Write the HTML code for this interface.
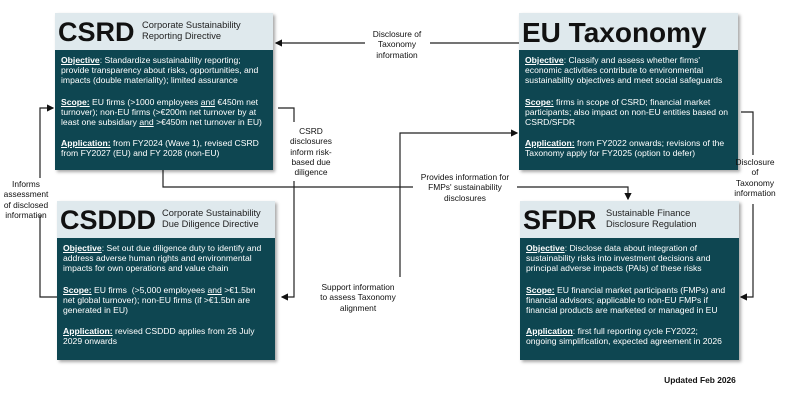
<!DOCTYPE html>
<html><head><meta charset="utf-8"><style>
body{margin:0;width:800px;height:406px;background:#fff;position:relative;overflow:hidden;font-family:"Liberation Sans",Arial,sans-serif;}
.box{position:absolute;box-shadow:2px 2px 3px rgba(0,0,0,0.35);}
.hd{background:#dfe9ed;position:relative;}
.bd{background:#0e4651;color:#fff;font-size:8.6px;line-height:10.2px;padding:5px 6px 0 6px;box-sizing:border-box;white-space:nowrap;}
.bd p{margin:0 0 11px 0;}
.bd b{text-decoration:underline;}
.t{position:absolute;font-weight:bold;color:#111;font-size:27px;line-height:27px;white-space:nowrap;}
.s{position:absolute;font-size:9.3px;line-height:11px;color:#222;white-space:nowrap;}
.lb{position:absolute;font-size:8.4px;line-height:10.3px;color:#111;text-align:center;white-space:nowrap;}
svg{position:absolute;left:0;top:0;}
</style></head><body>
<svg width="800" height="406">
<defs><marker id="a" markerWidth="6" markerHeight="6" refX="5" refY="3" orient="auto"><path d="M0,0 L6,3 L0,6 z" fill="#111"/></marker></defs>
<g stroke="#222" stroke-width="1.2" fill="none">
<line x1="519" y1="43" x2="430" y2="43"/>
<line x1="365" y1="43" x2="276" y2="43" marker-end="url(#a)"/>
<polyline points="278,108 294,108 294,122"/>
<polyline points="294,181 294,297 282,297" marker-end="url(#a)"/>
<polyline points="400,277 400,133 517,133" marker-end="url(#a)"/>
<polyline points="163,170 163,187 413,187"/>
<polyline points="517,187 628,187 628,199" marker-end="url(#a)"/>
<polyline points="57,297 40,297 40,215"/>
<polyline points="40,178 40,108 53,108" marker-end="url(#a)"/>
<polyline points="741,112 753,112 753,155"/>
<polyline points="753,204 753,297 741,297" marker-end="url(#a)"/>
</g></svg>

<div class="box" style="left:55px;top:13px;width:218px;height:157px;">
<div class="hd" style="height:37px;"><div class="t" style="left:3px;top:6px;">CSRD</div><div class="s" style="left:87px;top:7px;">Corporate Sustainability<br>Reporting Directive</div></div>
<div class="bd" style="height:120px;"><p><b>Objective</b>: Standardize sustainability reporting;<br>provide transparency about risks, opportunities, and<br>impacts (double materiality); limited assurance</p><p><b>Scope:</b> EU firms (&gt;1000 employees <u>and</u> €450m net<br>turnover); non-EU firms (&gt;€200m net turnover by at<br>least one subsidiary <u>and</u> &gt;€450m net turnover in EU)</p><p><b>Application:</b> from FY2024 (Wave 1), revised CSRD<br>from FY2027 (EU) and FY 2028 (non-EU)</p></div>
</div>

<div class="box" style="left:519px;top:13px;width:219px;height:157px;">
<div class="hd" style="height:37px;"><div class="t" style="left:3px;top:6px;font-size:28px;">EU Taxonomy</div></div>
<div class="bd" style="height:120px;"><p><b>Objective</b>: Classify and assess whether firms'<br>economic activities contribute to environmental<br>sustainability objectives and meet social safeguards</p><p><b>Scope:</b> firms in scope of CSRD; financial market<br>participants; also impact on non-EU entities based on<br>CSRD/SFDR</p><p><b>Application:</b> from FY2022 onwards; revisions of the<br>Taxonomy apply for FY2025 (option to defer)</p></div>
</div>

<div class="box" style="left:57px;top:201px;width:218px;height:159px;">
<div class="hd" style="height:37px;"><div class="t" style="left:3px;top:6px;">CSDDD</div><div class="s" style="left:105px;top:7px;">Corporate Sustainability<br>Due Diligence Directive</div></div>
<div class="bd" style="height:122px;"><p><b>Objective</b>: Set out due diligence duty to identify and<br>address adverse human rights and environmental<br>impacts for own operations and value chain</p><p><b>Scope:</b> EU firms &nbsp;(&gt;5,000 employees <u>and</u> &gt;€1.5bn<br>net global turnover); non-EU firms (if &gt;€1.5bn are<br>generated in EU)</p><p><b>Application:</b> revised CSDDD applies from 26 July<br>2029 onwards</p></div>
</div>

<div class="box" style="left:520px;top:201px;width:219px;height:159px;">
<div class="hd" style="height:37px;"><div class="t" style="left:3px;top:6px;">SFDR</div><div class="s" style="left:86px;top:7px;">Sustainable Finance<br>Disclosure Regulation</div></div>
<div class="bd" style="height:122px;"><p><b>Objective</b>: Disclose data about integration of<br>sustainability risks into investment decisions and<br>principal adverse impacts (PAIs) of these risks</p><p><b>Scope:</b> EU financial market participants (FMPs) and<br>financial advisors; applicable to non-EU FMPs if<br>financial products are marketed or managed in EU</p><p><b>Application</b>: first full reporting cycle FY2022;<br>ongoing simplification, expected agreement in 2026</p></div>
</div>

<div class="lb" style="left:360px;top:29px;width:74px;">Disclosure of<br>Taxonomy<br>information</div>
<div class="lb" style="left:283px;top:126px;width:56px;">CSRD<br>disclosures<br>inform risk-<br>based due<br>diligence</div>
<div class="lb" style="left:413px;top:172px;width:104px;">Provides information for<br>FMPs' sustainability<br>disclosures</div>
<div class="lb" style="left:315px;top:282px;width:86px;">Support information<br>to assess Taxonomy<br>alignment</div>
<div class="lb" style="left:0px;top:179px;width:52px;">Informs<br>assessment<br>of disclosed<br>information</div>
<div class="lb" style="left:727px;top:157px;width:56px;">Disclosure<br>of<br>Taxonomy<br>information</div>
<div class="lb" style="left:660px;top:375px;width:80px;font-weight:bold;">Updated Feb 2026</div>
</body></html>
